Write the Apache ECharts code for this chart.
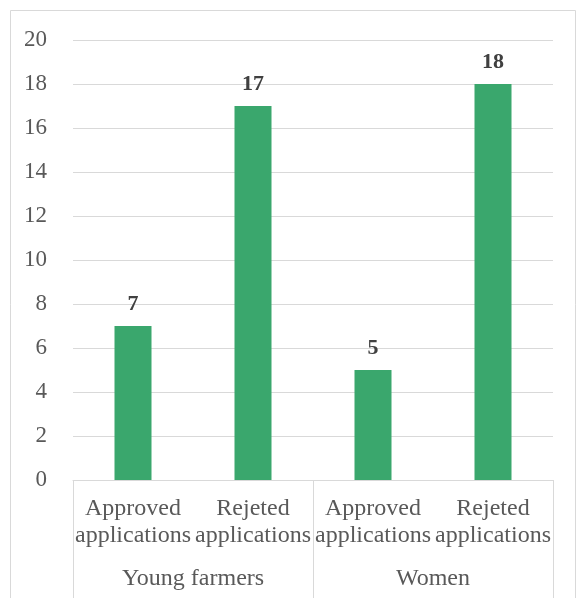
<!DOCTYPE html>
<html>
<head>
<meta charset="utf-8">
<script src="https://cdn.jsdelivr.net/npm/echarts@6/dist/echarts.min.js"></script>
<style>html,body{margin:0;padding:0;background:#fff;}#c{width:576px;height:598px;}</style>
</head>
<body>
<div id="c"></div>
<script>
var categories = ['Approved\napplications', 'Rejeted\napplications', 'Approved\napplications', 'Rejeted\napplications'];
var groups = ['Young farmers', 'Women'];
var values = [7, 17, 5, 18];
var yTicks = { min: 0, max: 20, interval: 2 };

var font = "'Liberation Serif', 'Times New Roman', serif";
var chart = echarts.init(document.getElementById('c'));
chart.setOption({
  animation: false,
  backgroundColor: '#fff',
  graphic: [{
    type: 'rect', shape: { x: 10.5, y: 10.5, width: 565, height: 600 },
    style: { fill: 'none', stroke: '#d9d9d9', lineWidth: 1 }, silent: true, z: -1
  }],
  grid: { left: 73, right: 23, top: 40, bottom: 118, containLabel: false },
  xAxis: [{
    type: 'category', data: categories, position: 'bottom',
    axisLine: { show: true, lineStyle: { color: '#d9d9d9', width: 1 } },
    axisTick: { show: false },
    axisLabel: { color: '#595959', fontFamily: font, fontSize: 24, lineHeight: 27, margin: 15, interval: 0 }
  }, {
    type: 'category', data: groups, position: 'bottom', offset: 0,
    axisLine: { show: false },
    axisTick: { show: true, length: 125, lineStyle: { color: '#d9d9d9', width: 1 } },
    axisLabel: { color: '#595959', fontFamily: font, fontSize: 24, margin: 87, interval: 0 }
  }],
  yAxis: {
    type: 'value', min: yTicks.min, max: yTicks.max, interval: yTicks.interval,
    axisLine: { show: false }, axisTick: { show: false },
    splitLine: { lineStyle: { color: '#d9d9d9', width: 1 } },
    axisLabel: { color: '#595959', fontFamily: font, fontSize: 23, margin: 26 }
  },
  series: [{
    type: 'bar', data: values, xAxisIndex: 0, barWidth: 37,
    itemStyle: { color: '#3aa76d' },
    label: { show: true, position: 'top', distance: 11, color: '#404040', fontFamily: font, fontSize: 22, fontWeight: 'bold' }
  }, {
    type: 'bar', data: [], xAxisIndex: 1
  }]
});
</script>
</body>
</html>
